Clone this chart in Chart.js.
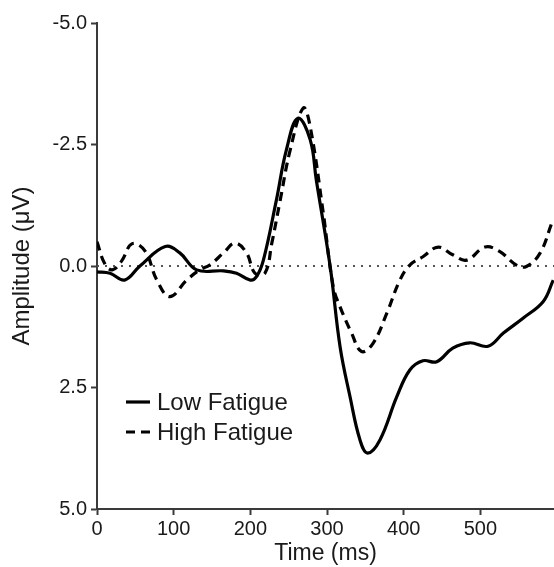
<!DOCTYPE html>
<html>
<head>
  <title>Amplitude vs Time</title>
  <script src="https://cdn.jsdelivr.net/npm/chart.js"></script>
  <style>
    body {
      margin: 0;
      background: #fff;
      overflow: hidden;
    }
  </style>
</head>
<body>
  <canvas id="myChart" width="554" height="567"></canvas>
  <script>
    // values (time in ms, amplitude in µV)
    const lowTimes = [0, 17, 36, 56, 89, 108, 130, 165, 182, 200, 208, 217, 234, 247, 262, 278, 286, 304, 317, 330, 343, 353, 369, 391, 408, 425, 443, 464, 486, 510, 530, 556, 582, 595];
    const lowValues = [0.12, 0.15, 0.29, 0.0, -0.4, -0.27, 0.08, 0.1, 0.15, 0.29, 0.22, -0.12, -1.36, -2.39, -3.04, -2.6, -1.77, 0.0, 1.66, 2.69, 3.58, 3.85, 3.58, 2.69, 2.14, 1.95, 1.97, 1.69, 1.58, 1.65, 1.38, 1.07, 0.73, 0.29];

    const highTimes = [0, 10, 20, 32, 46, 63, 78, 95, 117, 134, 147, 165, 180, 195, 206, 219, 228, 239, 252, 269, 278, 295, 308, 317, 332, 345, 360, 378, 395, 408, 425, 445, 464, 482, 506, 525, 547, 560, 578, 593];
    const highValues = [-0.5, -0.05, 0.08, -0.1, -0.46, -0.3, 0.29, 0.63, 0.29, 0.08, -0.02, -0.27, -0.47, -0.27, 0.15, 0.15, -0.47, -1.36, -2.39, -3.25, -2.87, -1.1, 0.42, 0.84, 1.38, 1.76, 1.59, 0.97, 0.29, -0.02, -0.19, -0.39, -0.23, -0.12, -0.39, -0.3, -0.02, 0.01, -0.27, -0.88];

    const zeroTimes = [0, 596];
    const zeroValues = [0, 0];

    const xTicks = [0, 100, 200, 300, 400, 500];
    const yTicks = [-5.0, -2.5, 0.0, 2.5, 5.0];

    function toPoints(xs, ys) {
      return xs.map((x, i) => ({ x: x, y: ys[i] }));
    }

    const textColor = '#1a1a1a';
    const axisColor = '#3a3a3a';
    const fontFamily = '"Liberation Sans", Arial, sans-serif';

    // legend drawn inside the plot area, like the original figure
    const innerLegend = {
      id: 'innerLegend',
      afterDraw(chart) {
        const ctx = chart.ctx;
        const items = chart.data.datasets.filter(d => d.inLegend);
        ctx.save();
        ctx.font = '24px ' + fontFamily;
        ctx.fillStyle = textColor;
        ctx.textBaseline = 'middle';
        items.forEach((d, i) => {
          const y = 402 + i * 30;
          ctx.beginPath();
          ctx.lineWidth = d.borderWidth;
          ctx.strokeStyle = d.borderColor;
          ctx.setLineDash(d.borderDash || []);
          ctx.moveTo(126, y);
          ctx.lineTo(150, y);
          ctx.stroke();
          ctx.fillText(d.label, 157, y + 1);
        });
        ctx.restore();
      }
    };

    const ctx = document.getElementById('myChart').getContext('2d');
    const chart = new Chart(ctx, {
      type: 'line',
      data: {
        datasets: [
          {
            label: 'Low Fatigue',
            data: toPoints(lowTimes, lowValues),
            borderColor: '#000',
            borderWidth: 3.2,
            pointRadius: 0,
            tension: 0.4,
            inLegend: true
          },
          {
            label: 'High Fatigue',
            data: toPoints(highTimes, highValues),
            borderColor: '#000',
            borderWidth: 3.2,
            borderDash: [9, 6],
            pointRadius: 0,
            tension: 0.4,
            inLegend: true
          },
          {
            label: 'zero',
            data: toPoints(zeroTimes, zeroValues),
            borderColor: '#555',
            borderWidth: 2,
            borderDash: [2, 6],
            pointRadius: 0
          }
        ]
      },
      options: {
        responsive: false,
        animation: false,
        layout: { padding: { top: 23, right: 0, bottom: 0, left: 0 } },
        plugins: {
          legend: { display: false },
          tooltip: { enabled: false }
        },
        scales: {
          x: {
            type: 'linear',
            min: 0,
            max: 596,
            afterFit: (scale) => { scale.height = 58; },
            afterBuildTicks: (scale) => { scale.ticks = xTicks.map(v => ({ value: v })); },
            ticks: {
              color: textColor,
              font: { size: 20, family: fontFamily },
              padding: 2,
              maxRotation: 0
            },
            grid: {
              drawOnChartArea: false,
              drawTicks: true,
              tickLength: 6,
              tickWidth: 2,
              color: axisColor
            },
            border: { color: axisColor, width: 2 },
            title: {
              display: true,
              text: 'Time (ms)',
              color: textColor,
              font: { size: 23, family: fontFamily },
              padding: { top: 0, bottom: 0 }
            }
          },
          y: {
            type: 'linear',
            reverse: true,
            min: -5,
            max: 5,
            afterFit: (scale) => { scale.width = 97; },
            afterBuildTicks: (scale) => { scale.ticks = yTicks.map(v => ({ value: v })); },
            ticks: {
              color: textColor,
              font: { size: 20, family: fontFamily },
              padding: 4,
              callback: (v) => Number(v).toFixed(1)
            },
            grid: {
              drawOnChartArea: false,
              drawTicks: true,
              tickLength: 6,
              tickWidth: 2,
              color: axisColor
            },
            border: { color: axisColor, width: 2 },
            title: {
              display: true,
              text: 'Amplitude (\u03bcV)',
              color: textColor,
              font: { size: 24, family: fontFamily },
              padding: { top: 8, bottom: 0 }
            }
          }
        }
      },
      plugins: [innerLegend]
    });
  </script>
</body>
</html>
